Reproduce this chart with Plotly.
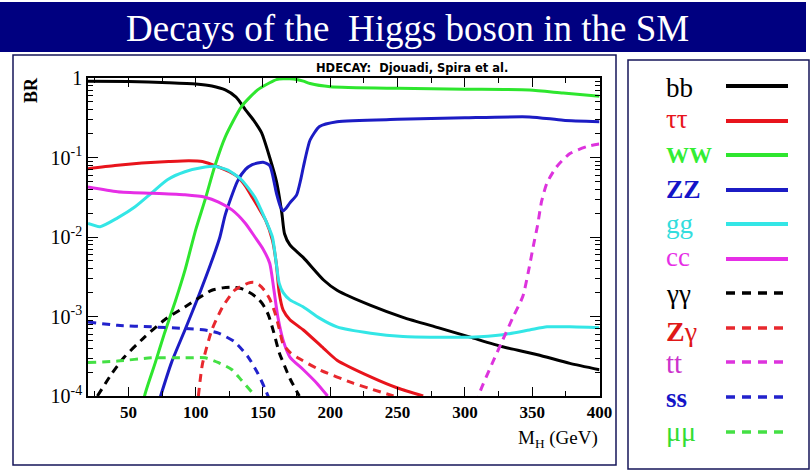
import plotly.graph_objects as go

# ---------------- data ----------------
bb_m = [20, 50, 80, 100, 112, 122, 130, 137, 143, 149, 155, 160, 164, 166, 170, 180, 195, 205, 230, 254, 280, 304, 328, 354, 378, 400]
bb_br = [0.912, 0.902, 0.871, 0.841, 0.794, 0.708, 0.575, 0.398, 0.295, 0.204, 0.100, 0.0501, 0.0200, 0.0110, 0.00794, 0.00550, 0.00288, 0.00214, 0.00138, 0.000977, 0.000724, 0.000550, 0.000417, 0.000331, 0.000257, 0.000214]

tau_m = [20, 40, 60, 80, 95, 105, 117, 125, 131, 137, 142, 147, 152, 157, 160, 162, 165, 170, 180, 195, 205, 230, 250, 269]
tau_br = [0.0724, 0.0794, 0.0851, 0.0891, 0.0912, 0.0891, 0.0759, 0.0661, 0.0575, 0.0437, 0.0316, 0.0229, 0.0162, 0.00912, 0.00447, 0.00200, 0.00120, 0.000912, 0.000676, 0.000398, 0.000282, 0.000174, 0.000126, 0.000100]

ww_m = [60, 62, 70, 77, 85, 92, 100, 107, 114, 122, 134, 146, 155, 160, 165, 170, 175, 180, 185, 200, 250, 300, 348, 373, 400]
ww_br = [5.0e-5, 1.0e-4, 2.63e-4, 6.31e-4, 1.58e-3, 3.80e-3, 0.0123, 0.0295, 0.0759, 0.182, 0.437, 0.708, 0.871, 0.955, 0.977, 0.977, 0.955, 0.912, 0.851, 0.776, 0.741, 0.724, 0.708, 0.646, 0.589]

zz_m = [73, 82, 92, 102, 112, 118, 122, 131, 137, 142, 146, 150, 155, 160, 163, 165, 167, 170, 175, 178, 180, 185, 192, 205, 250, 300, 348, 373, 400]
zz_br = [8.9e-5, 2.63e-4, 6.76e-4, 1.78e-3, 5.01e-3, 0.0100, 0.0191, 0.0501, 0.0708, 0.0813, 0.0851, 0.0871, 0.0794, 0.0355, 0.0240, 0.0214, 0.0229, 0.0269, 0.0339, 0.0525, 0.0759, 0.166, 0.245, 0.282, 0.302, 0.316, 0.324, 0.295, 0.282]

gg_m = [20, 29, 42, 55, 67, 79, 92, 107, 114, 124, 134, 144, 151, 157, 160, 162, 165, 170, 180, 192, 205, 230, 254, 279, 304, 328, 348, 361, 378, 400]
gg_br = [0.0148, 0.0135, 0.0174, 0.0240, 0.0355, 0.0525, 0.0661, 0.0759, 0.0776, 0.0692, 0.0525, 0.0316, 0.0178, 0.0100, 0.00447, 0.00263, 0.00200, 0.00162, 0.00132, 0.000955, 0.000741, 0.000617, 0.000562, 0.000550, 0.000550, 0.000589, 0.000676, 0.000741, 0.000741, 0.000724]

cc_m = [20, 42, 68, 92, 107, 117, 127, 137, 144, 150, 155, 158, 161, 165, 170, 180, 190, 198]
cc_br = [0.0427, 0.0372, 0.0355, 0.0339, 0.0316, 0.0275, 0.0219, 0.0148, 0.0100, 0.00708, 0.00468, 0.00224, 0.00100, 0.000501, 0.000309, 0.000214, 0.000145, 0.000100]

aa_m = [27, 38, 47, 62, 77, 92, 102, 112, 120, 127, 134, 140, 146, 150, 154, 158, 162, 166, 170, 177]
aa_br = [1.0e-4, 1.95e-4, 3.09e-4, 5.50e-4, 9.12e-4, 1.32e-3, 1.70e-3, 2.14e-3, 2.29e-3, 2.34e-3, 2.24e-3, 2.0e-3, 1.70e-3, 1.41e-3, 1.05e-3, 6.31e-4, 3.55e-4, 2.40e-4, 1.66e-4, 1.0e-4]

za_m = [102, 105, 112, 120, 129, 139, 143, 147, 151, 155, 159, 162, 165, 170, 175, 192, 217, 247]
za_br = [1.0e-4, 2.51e-4, 6.76e-4, 1.32e-3, 2.14e-3, 2.63e-3, 2.69e-3, 2.51e-3, 2.14e-3, 1.66e-3, 1.10e-3, 7.08e-4, 4.47e-4, 3.55e-4, 3.09e-4, 2.14e-4, 1.45e-4, 1.0e-4]

tt_m = [309, 311, 320, 328, 336, 343, 347, 351, 354, 357, 361, 368, 378, 391, 400]
tt_br = [7.9e-5, 1.10e-4, 2.51e-4, 5.01e-4, 1.0e-3, 1.78e-3, 3.55e-3, 7.94e-3, 0.0141, 0.0282, 0.0479, 0.0759, 0.112, 0.138, 0.148]

ss_m = [20, 42, 67, 92, 107, 117, 129, 139, 146, 151, 155]
ss_br = [8.51e-4, 7.76e-4, 7.41e-4, 7.08e-4, 6.76e-4, 6.17e-4, 4.79e-4, 3.09e-4, 1.95e-4, 1.29e-4, 8.9e-5]

mm_m = [20, 42, 67, 92, 107, 117, 127, 134, 142, 145]
mm_br = [2.63e-4, 2.75e-4, 3.02e-4, 3.02e-4, 3.02e-4, 2.63e-4, 2.14e-4, 1.58e-4, 1.10e-4, 8.9e-5]

channel_names = ["bb", "\u03c4\u03c4", "<b>WW</b>", "<b>ZZ</b>", "gg", "cc",
                 "\u03b3\u03b3", "<b>Z</b>\u03b3", "tt", "<b>ss</b>", "\u03bc\u03bc"]
x_ticks = [50, 100, 150, 200, 250, 300, 350, 400]
y_tickvals = [1e-4, 1e-3, 1e-2, 1e-1, 1]
y_ticktext = ["10<sup>-4</sup>", "10<sup>-3</sup>", "10<sup>-2</sup>", "10<sup>-1</sup>", "1"]

series = [(bb_m, bb_br), (tau_m, tau_br), (ww_m, ww_br), (zz_m, zz_br), (gg_m, gg_br),
          (cc_m, cc_br), (aa_m, aa_br), (za_m, za_br), (tt_m, tt_br), (ss_m, ss_br), (mm_m, mm_br)]

# ---------------- styles ----------------
colors = ["#000000", "#e8141c", "#2ee62e", "#1c1cc4", "#33e6e6", "#e62ee6",
          "#000000", "#e8282e", "#dd33dd", "#2222cc", "#44e044"]
label_colors = ["#000000", "#e8141c", "#33ee33", "#1414c8", "#33dddd", "#e62ee6",
                "#000000", "#e01818", "#cc33cc", "#1414c8", "#33dd33"]
dashes = ["solid"] * 6 + ["8px,6px"] * 5
label_sizes = [27, 27, 23, 26, 27, 27, 27, 28, 29, 27, 28]
row_line_y = [86, 121, 155, 190, 224, 259, 293, 328, 362, 397, 432]
row_text_y = [88, 119, 156, 189, 224, 257, 294, 331, 363, 398, 431]

W, H = 812, 473
def px(x):
    return x / W
def py(y):
    return 1 - y / H

SERIF = "Liberation Serif"

fig = go.Figure()
for (m, br), c, d in zip(series, colors, dashes):
    fig.add_trace(go.Scatter(x=m, y=br, mode="lines", showlegend=False,
                             line=dict(color=c, width=3, dash=d, shape="spline", smoothing=0.6)))

fig.update_layout(
    width=W, height=H, autosize=False, margin=dict(l=0, r=0, t=0, b=0, pad=0, autoexpand=False),
    paper_bgcolor="white", plot_bgcolor="white", showlegend=False,
    xaxis=dict(domain=[px(88), px(599.5)], range=[20, 400], tickvals=x_ticks, automargin=False,
               ticks="inside", ticklen=9, tickwidth=1.3, tickcolor="black",
               showline=True, linecolor="black", linewidth=1.6, mirror="ticks",
               showgrid=False, zeroline=False,
               minor=dict(dtick=25, tick0=0, ticks="inside", ticklen=5, tickcolor="black", showgrid=False),
               tickfont=dict(family=SERIF, size=17, color="black", weight="bold")),
    yaxis=dict(domain=[py(396), py(78)], type="log", range=[-4, 0], automargin=False,
               tickvals=y_tickvals, ticktext=y_ticktext,
               ticks="inside", ticklen=10, tickwidth=1.3, tickcolor="black",
               showline=True, linecolor="black", linewidth=1.6, mirror="ticks",
               showgrid=False, zeroline=False,
               minor=dict(tickvals=[k * 10.0 ** e for e in (-4, -3, -2, -1) for k in range(2, 10)],
                          ticks="inside", ticklen=5, tickcolor="black", showgrid=False),
               tickfont=dict(family=SERIF, size=20, color="black")),
)

shapes = [
    dict(type="rect", xref="paper", yref="paper", x0=0, x1=px(806), y0=py(52), y1=py(2),
         fillcolor="#000080", line=dict(width=0), layer="below"),
    dict(type="rect", xref="paper", yref="paper", x0=px(13), x1=px(616), y0=py(465), y1=py(55),
         line=dict(color="#16165a", width=1.5)),
    dict(type="rect", xref="paper", yref="paper", x0=px(628), x1=px(809), y0=py(469), y1=py(60),
         line=dict(color="#16165a", width=1.5)),
]
annotations = [
    dict(text="Decays of the\u00a0 Higgs boson in the SM", x=px(407), y=py(28), xref="paper", yref="paper",
         showarrow=False, xanchor="center", yanchor="middle",
         font=dict(family=SERIF, size=37, color="white")),
    dict(text="<b>HDECAY:  Djouadi, Spira et al.</b>", x=px(412), y=py(68), xref="paper", yref="paper",
         showarrow=False, xanchor="center", yanchor="middle",
         font=dict(family="DejaVu Sans", size=11.5, color="black")),
    dict(text="<b>BR</b>", x=px(31), y=py(90), xref="paper", yref="paper", textangle=-90,
         showarrow=False, xanchor="center", yanchor="middle",
         font=dict(family=SERIF, size=18, color="black")),
    dict(text="M<sub>H</sub> (GeV)", x=px(600), y=py(439), xref="paper", yref="paper",
         showarrow=False, xanchor="right", yanchor="middle",
         font=dict(family=SERIF, size=19, color="black")),
]
for name, lc, c, d, sz, ly, ty in zip(channel_names, label_colors, colors, dashes, label_sizes,
                                      row_line_y, row_text_y):
    annotations.append(dict(text=name, x=px(664), y=py(ty), xref="paper", yref="paper",
                            showarrow=False, xanchor="left", yanchor="middle",
                            font=dict(family=SERIF, size=sz, color=lc)))
    shapes.append(dict(type="line", xref="paper", yref="paper",
                       x0=px(726), x1=px(788) if d == "solid" else px(785), y0=py(ly), y1=py(ly),
                       line=dict(color=c, width=4 if d == "solid" else 3.5,
                                 dash="solid" if d == "solid" else "9px,7px")))

fig.update_layout(shapes=shapes, annotations=annotations)
fig.write_html("out.html")
